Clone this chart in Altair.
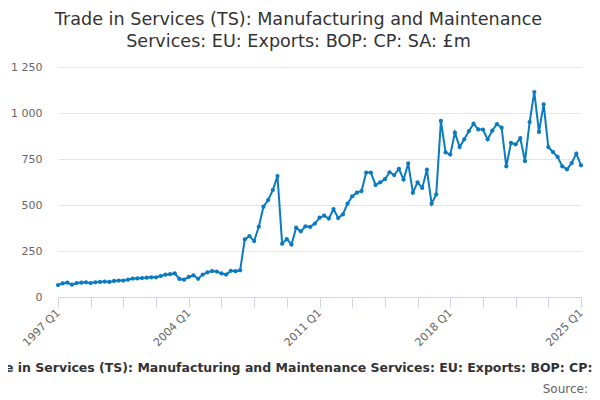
import altair as alt
import pandas as pd

# Quarterly categories 1997 Q1 .. 2025 Q1
quarters = [f"{y} Q{q}" for y in range(1997, 2026) for q in range(1, 5)][:113]

values = [
    65, 74, 78, 67, 76, 78, 80, 76, 80, 82,
    84, 82, 87, 89, 89, 94, 100, 101, 103, 105,
    107, 107, 114, 121, 124, 128, 98, 94, 109, 118,
    99, 122, 134, 141, 138, 128, 122, 142, 140, 145,
    313, 331, 304, 382, 491, 527, 581, 657, 290, 315,
    285, 377, 357, 384, 381, 399, 431, 442, 426, 478,
    429, 449, 507, 547, 567, 576, 676, 676, 609, 623,
    640, 678, 663, 697, 638, 726, 567, 623, 593, 692,
    507, 558, 957, 786, 774, 893, 815, 857, 902, 942,
    911, 910, 857, 904, 940, 920, 710, 837, 830, 864,
    739, 951, 1114, 897, 1047, 815, 788, 761, 710, 694,
    728, 779, 716,
]

tick_quarters = quarters[::7]
label_quarters = ["1997 Q1", "2004 Q1", "2011 Q1", "2018 Q1", "2025 Q1"]
y_ticks = [0, 250, 500, 750, 1000, 1250]

title_lines = [
    "Trade in Services (TS): Manufacturing and Maintenance",
    "Services: EU: Exports: BOP: CP: SA: £m",
]
axis_title = "Trade in Services (TS): Manufacturing and Maintenance Services: EU: Exports: BOP: CP: SA: £m"
source_text = "Source:"

df = pd.DataFrame({"quarter": quarters, "value": values})
src = pd.DataFrame({"t": [source_text]})

FONT = "DejaVu Sans"
COLOR = "#0a7bc2"

label_test = " || ".join([f"datum.value == '{l}'" for l in label_quarters])

line = alt.Chart(df).mark_line(
    color=COLOR, strokeWidth=2,
    point=alt.OverlayMarkDef(filled=True, size=18, color=COLOR),
).encode(
    x=alt.X(
        "quarter:O",
        sort=quarters,
        scale=alt.Scale(padding=0),
        axis=alt.Axis(
            values=tick_quarters,
            labelExpr=f"({label_test}) ? datum.value : ''",
            labelAngle=-45,
            labelAlign="right",
            labelBaseline="middle",
            labelFont=FONT,
            labelFontSize=11,
            labelColor="#666666",
            labelPadding=4,
            tickColor="#ccd6eb",
            tickSize=10,
            domainColor="#ccd6eb",
            grid=False,
            title=axis_title,
            titleFont=FONT,
            titleFontSize=12.5,
            titleFontWeight="bold",
            titleColor="#333333",
            titleX=252,
            titleY=70,
            titleBaseline="middle",
            titleAnchor="middle",
            titleAlign="center",
        ),
    ),
    y=alt.Y(
        "value:Q",
        scale=alt.Scale(domain=[0, 1250], nice=False),
        axis=alt.Axis(
            values=y_ticks,
            labelExpr="replace(format(datum.value, ','), ',', ' ')",
            labelFont=FONT,
            labelFontSize=11,
            labelColor="#666666",
            labelPadding=16,
            ticks=False,
            domain=False,
            gridColor="#e6e6e6",
            title=None,
        ),
    ),
)

source = alt.Chart(src).mark_text(
    align="right", baseline="middle", font=FONT, fontSize=12, color="#666666"
).encode(
    text="t:N",
    x=alt.value(530),
    y=alt.value(322),
)

chart = alt.layer(line, source).properties(
    width=523,
    height=230,
    autosize=alt.AutoSizeParams(type="none"),
    padding={"left": 50, "top": 59, "right": 11, "bottom": 99},
    title=alt.TitleParams(
        text=title_lines,
        font=FONT,
        fontSize=17.6,
        fontWeight="normal",
        color="#333333",
        anchor="middle",
        dx=-21,
        offset=10,
        lineHeight=22,
    ),
).configure_view(stroke=None)

chart.save("out.html", embed_options={"renderer": "svg", "actions": False})
